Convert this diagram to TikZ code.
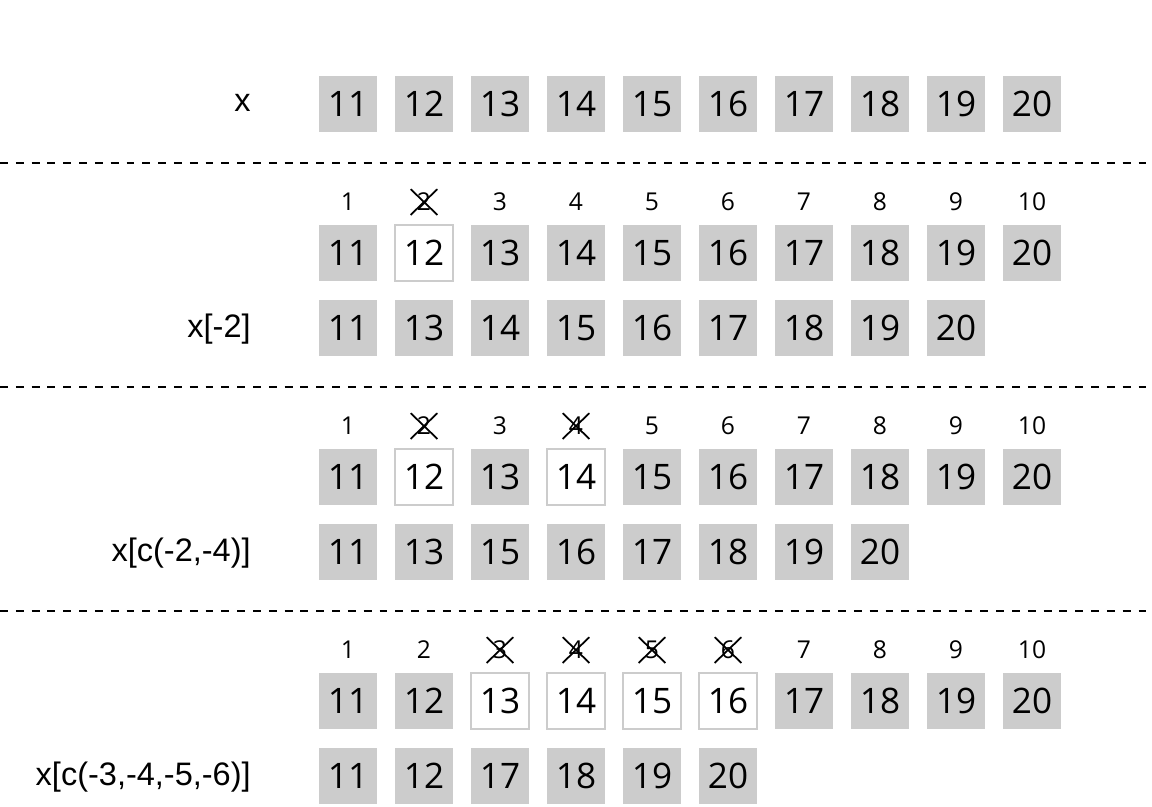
\documentclass[tikz,border=0pt]{standalone}
\usepackage{fontspec}
\setmainfont{Liberation Sans}
\newfontfamily\numfont{Open Sans}
\usetikzlibrary{shapes.misc}
\definecolor{cellgray}{HTML}{CCCCCC}
\tikzset{
	cell/.style={fill=cellgray, minimum width=1.16cm, minimum height=1.12cm, inner sep=0pt, font=\numfont\fontsize{20}{24}\selectfont},
	dropped/.style={cell, fill=white, draw=cellgray, line width=1pt},
	idx/.style={inner sep=0pt, font=\numfont\fontsize{14}{16}\selectfont},
	gone/.style={idx, cross out, draw=black, line width=1pt, minimum width=0.5cm, minimum height=0.48cm},
	lab/.style={anchor=east, inner sep=0pt, font=\fontsize{18.5}{22}\selectfont},
	sep/.style={dashed, dash pattern=on 4.5pt off 4.5pt, line width=1.1pt}
}
\begin{document}
\begin{tikzpicture}[x=0.02cm, y=-0.02cm]
	\useasboundingbox (0, 0) rectangle (1152, 806);

	% original vector
	\node[lab] (lx) at (251, 103) {x};
	\foreach \v [count=\i] in {11,...,20}
		\node[cell] (a\i) at ({272+76*\i}, 104) {\v};

	\draw[sep] (0, 163) -- (1152, 163);
	\draw[sep] (0, 387) -- (1152, 387);
	\draw[sep] (0, 611) -- (1152, 611);

	% x[-2]
	\foreach \s [count=\i] in {idx,gone,idx,idx,idx,idx,idx,idx,idx,idx}
		\node[\s] (ib\i) at ({272+76*\i}, 202) {\i};
	\foreach \v/\s [count=\i] in {11/cell,12/dropped,13/cell,14/cell,15/cell,16/cell,17/cell,18/cell,19/cell,20/cell}
		\node[\s] (b\i) at ({272+76*\i}, 253) {\v};
	\node[lab] (lb) at (251, 329) {x[-2]};
	\foreach \v [count=\i] in {11,13,14,15,16,17,18,19,20}
		\node[cell] (rb\i) at ({272+76*\i}, 328) {\v};

	% x[c(-2,-4)]
	\foreach \s [count=\i] in {idx,gone,idx,gone,idx,idx,idx,idx,idx,idx}
		\node[\s] (ic\i) at ({272+76*\i}, 426) {\i};
	\foreach \v/\s [count=\i] in {11/cell,12/dropped,13/cell,14/dropped,15/cell,16/cell,17/cell,18/cell,19/cell,20/cell}
		\node[\s] (c\i) at ({272+76*\i}, 477) {\v};
	\node[lab] (lc) at (251, 553) {x[c(-2,-4)]};
	\foreach \v [count=\i] in {11,13,15,16,17,18,19,20}
		\node[cell] (rc\i) at ({272+76*\i}, 552) {\v};

	% x[c(-3,-4,-5,-6)]
	\foreach \s [count=\i] in {idx,idx,gone,gone,gone,gone,idx,idx,idx,idx}
		\node[\s] (id\i) at ({272+76*\i}, 650) {\i};
	\foreach \v/\s [count=\i] in {11/cell,12/cell,13/dropped,14/dropped,15/dropped,16/dropped,17/cell,18/cell,19/cell,20/cell}
		\node[\s] (d\i) at ({272+76*\i}, 701) {\v};
	\node[lab] (ld) at (251, 777) {x[c(-3,-4,-5,-6)]};
	\foreach \v [count=\i] in {11,12,17,18,19,20}
		\node[cell] (rd\i) at ({272+76*\i}, 776) {\v};
\end{tikzpicture}
\end{document}
